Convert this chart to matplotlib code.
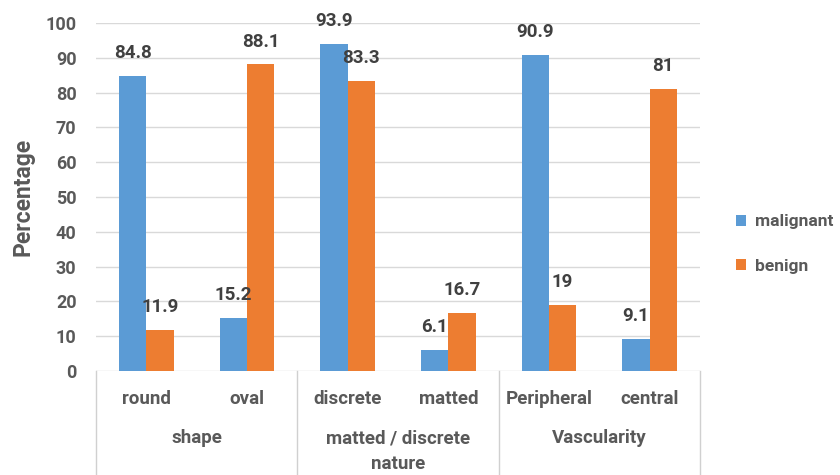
import matplotlib
matplotlib.use("Agg")
import matplotlib.pyplot as plt
import numpy as np

# data
categories = ["round", "oval", "discrete", "matted", "Peripheral", "central"]
groups = ["shape", "matted / discrete\nnature", "Vascularity"]
malignant = [84.8, 15.2, 93.9, 6.1, 90.9, 9.1]
benign = [11.9, 88.1, 83.3, 16.7, 19, 81]
value_labels_m = ["84.8", "15.2", "93.9", "6.1", "90.9", "9.1"]
value_labels_b = ["11.9", "88.1", "83.3", "16.7", "19", "81"]

BLUE = "#5B9BD5"
ORANGE = "#ED7D31"
TXT = "#595959"
GRID = "#d9d9d9"

plt.rcParams["font.family"] = ["Roboto", "DejaVu Sans"]
plt.rcParams["font.weight"] = "bold"

fig = plt.figure(figsize=(8.4, 4.75), dpi=100)
ax = fig.add_axes([96 / 840, 1 - 371 / 475, (700 - 96) / 840, (371 - 23) / 475])

x = np.arange(len(categories))
w = 0.27
b1 = ax.bar(x - w / 2, malignant, w, color=BLUE, label="malignant", zorder=3)
b2 = ax.bar(x + w / 2, benign, w, color=ORANGE, label="benign", zorder=3)

for bars, labs in ((b1, value_labels_m), (b2, value_labels_b)):
    for r, lab in zip(bars, labs):
        ax.annotate(lab, (r.get_x() + r.get_width() / 2, r.get_height()),
                    xytext=(0, 10), textcoords="offset points",
                    ha="center", va="bottom", fontsize=13.5, fontweight="bold",
                    color="#404040")

ax.set_xlim(-0.5, len(categories) - 0.5)
ax.set_ylim(0, 100)
ax.set_yticks(range(0, 101, 10))
ax.yaxis.grid(True, color=GRID, lw=1, zorder=0)
ax.set_axisbelow(True)
for s in ax.spines.values():
    s.set_visible(False)
ax.tick_params(axis="y", length=0, pad=14, labelsize=13, labelcolor=TXT)
for t in ax.get_yticklabels():
    t.set_fontweight("bold")
ax.set_xticks([])
ax.set_ylabel("Percentage", fontsize=16.5, fontweight="bold", color=TXT, labelpad=8)

# two-level category axis
trans = ax.get_xaxis_transform()
for i, c in enumerate(categories):
    ax.text(i, -0.08, c, transform=trans, ha="center", va="center",
            fontsize=13.5, fontweight="bold", color=TXT, clip_on=False)
for g, lab in enumerate(groups):
    ax.text(2 * g + 0.5, -0.168, lab, transform=trans, ha="center", va="top",
            fontsize=13.5, fontweight="bold", color=TXT, clip_on=False,
            linespacing=1.55)
for b in [-0.5, 1.5, 3.5, 5.5]:
    ax.plot([b, b], [0, -0.32], transform=trans, color="#d0d0d0", lw=1,
            clip_on=False)

fig.legend(handles=[b1, b2], loc="center left", bbox_to_anchor=(0.857, 0.486),
           frameon=False, prop={"size": 12.5, "weight": "bold"}, labelcolor=TXT,
           handlelength=0.6, handleheight=0.6, handletextpad=0.5, labelspacing=1.7)

fig.savefig("out.png", dpi=100)
